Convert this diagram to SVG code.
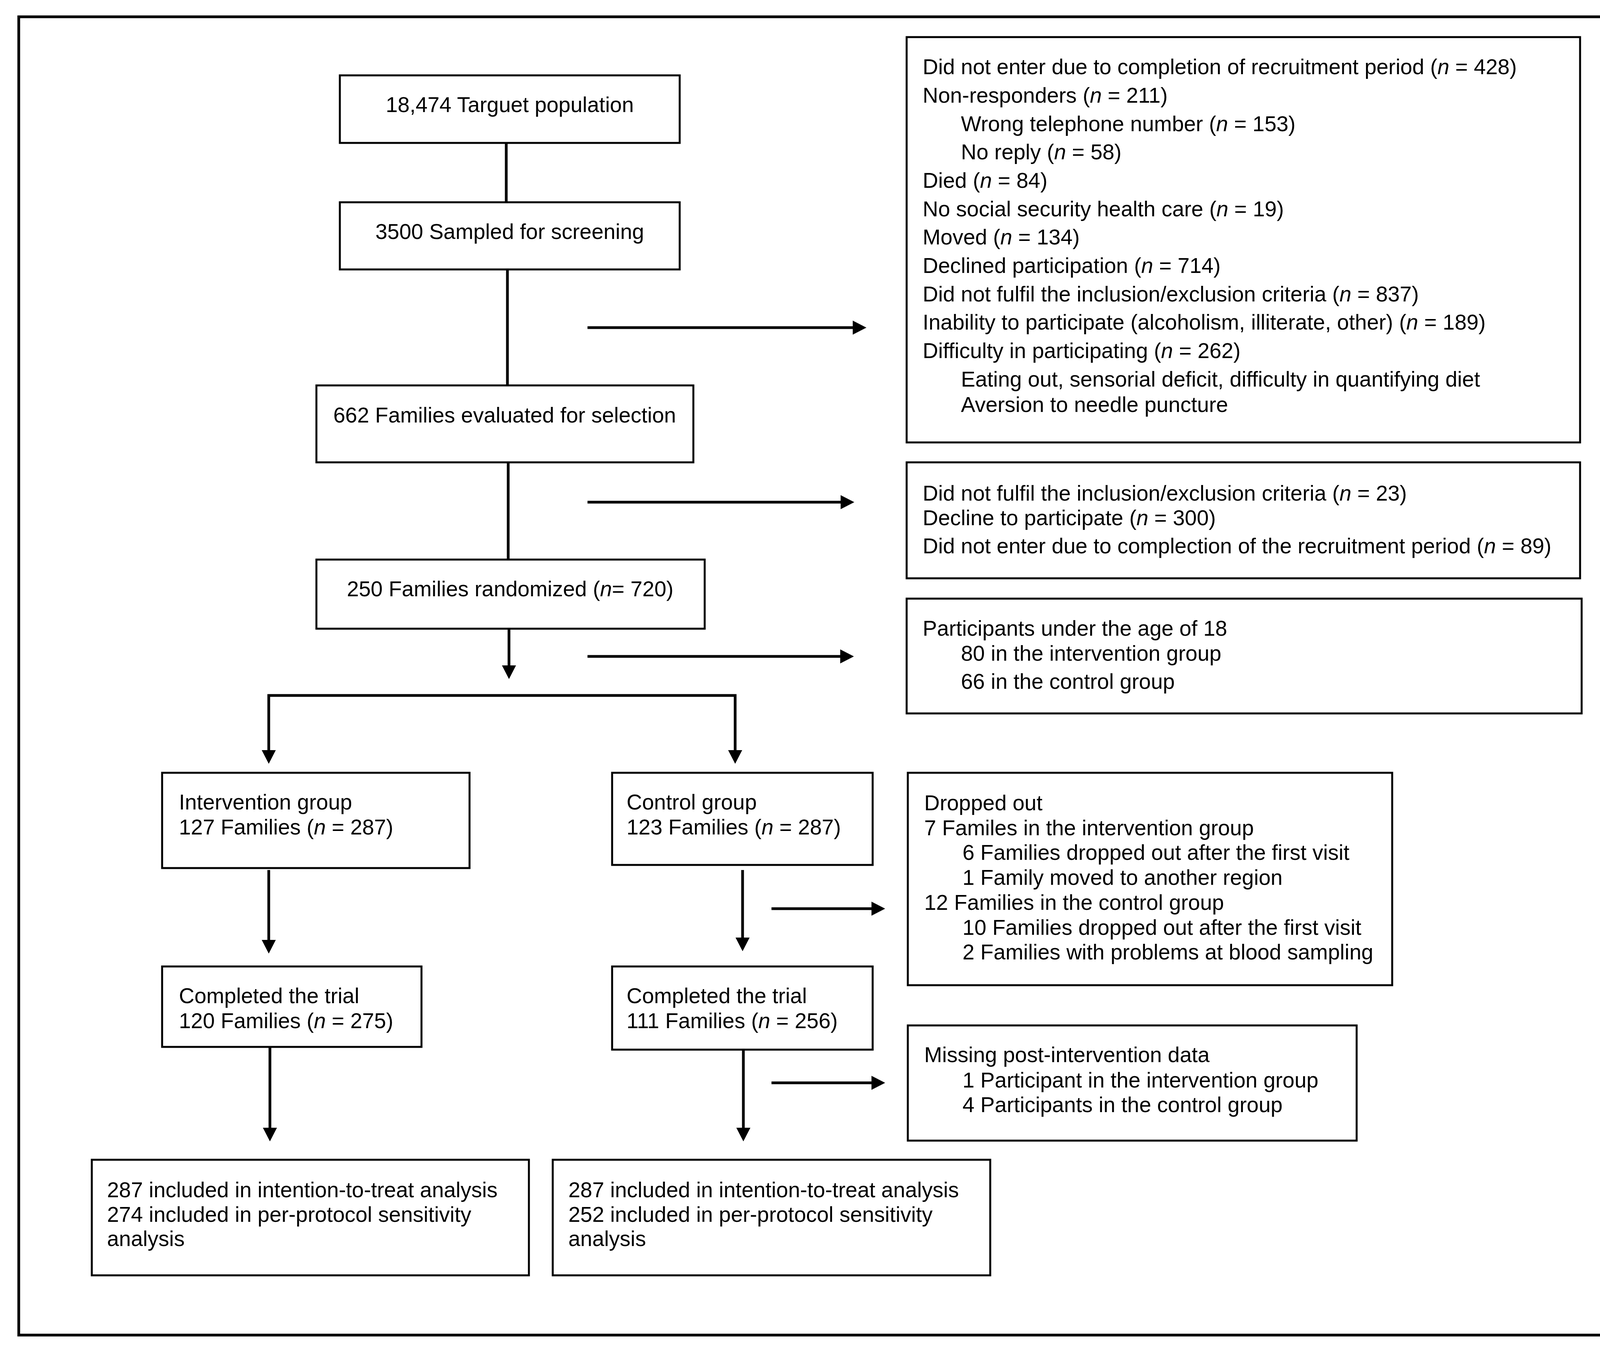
<svg xmlns="http://www.w3.org/2000/svg" width="4460" height="3470" viewBox="0 0 4460 3470">
<style>
.b{fill:#fff;stroke:#000;stroke-width:5}
.c{fill:none;stroke:#000;stroke-width:7}
text{font-family:"Liberation Sans",Arial,Helvetica,sans-serif;font-size:55px;fill:#000}
.m{text-anchor:middle}
.i{font-style:italic}
</style>
<defs>
<marker id="ah" markerUnits="userSpaceOnUse" markerWidth="40" markerHeight="40" viewBox="0 -20 40 40" refX="0" refY="0" orient="auto">
<path d="M0,-18 L35,0 L0,18 Z" fill="#000"/>
</marker>
</defs>
<rect x="0" y="0" width="4460" height="3470" fill="#fff"/>
<rect id="frame" x="48" y="43" width="4368" height="3376" fill="none" stroke="#000" stroke-width="7"/>

<g id="connectors">
<path class="c" d="M1296,366 V518"/>
<path class="c" d="M1299,690 V987"/>
<path class="c" d="M1301,1184 V1433"/>
<path class="c" d="M1303,1610 V1704" marker-end="url(#ah)"/>
<path class="c" d="M1290,1781 H688 V1921" marker-end="url(#ah)"/>
<path class="c" d="M1290,1781 H1882 V1921" marker-end="url(#ah)"/>
<path class="c" d="M688,2228 V2407" marker-end="url(#ah)"/>
<path class="c" d="M1901,2228 V2401" marker-end="url(#ah)"/>
<path class="c" d="M691,2683 V2888" marker-end="url(#ah)"/>
<path class="c" d="M1903,2690 V2888" marker-end="url(#ah)"/>
<path class="c" d="M1504,839 H2183" marker-end="url(#ah)"/>
<path class="c" d="M1504,1286 H2152" marker-end="url(#ah)"/>
<path class="c" d="M1504,1681 H2151" marker-end="url(#ah)"/>
<path class="c" d="M1975,2327 H2231" marker-end="url(#ah)"/>
<path class="c" d="M1975,2773 H2231" marker-end="url(#ah)"/>
</g>

<g id="target">
<rect class="b" x="870" y="193" width="870" height="173"/>
<text class="m" x="1305" y="287">18,474 Targuet population</text>
</g>
<g id="sampled">
<rect class="b" x="870" y="518" width="870" height="172"/>
<text class="m" x="1305" y="612">3500 Sampled for screening</text>
</g>
<g id="evaluated">
<rect class="b" x="810" y="987" width="965" height="197"/>
<text class="m" x="1292" y="1082">662 Families evaluated for selection</text>
</g>
<g id="randomized">
<rect class="b" x="810" y="1433" width="994" height="177"/>
<text class="m" x="1306" y="1527">250 Families randomized (<tspan class="i">n</tspan>= 720)</text>
</g>

<g id="excluded1">
<rect class="b" x="2321" y="95" width="1724" height="1038"/>
<text x="2362" y="190">Did not enter due to completion of recruitment period (<tspan class="i">n</tspan> = 428)</text>
<text x="2362" y="263">Non-responders (<tspan class="i">n</tspan> = 211)</text>
<text x="2460" y="336">Wrong telephone number (<tspan class="i">n</tspan> = 153)</text>
<text x="2460" y="408">No reply (<tspan class="i">n</tspan> = 58)</text>
<text x="2362" y="481">Died (<tspan class="i">n</tspan> = 84)</text>
<text x="2362" y="554">No social security health care (<tspan class="i">n</tspan> = 19)</text>
<text x="2362" y="626">Moved (<tspan class="i">n</tspan> = 134)</text>
<text x="2362" y="699">Declined participation (<tspan class="i">n</tspan> = 714)</text>
<text x="2362" y="772">Did not fulfil the inclusion/exclusion criteria (<tspan class="i">n</tspan> = 837)</text>
<text x="2362" y="844">Inability to participate (alcoholism, illiterate, other) (<tspan class="i">n</tspan> = 189)</text>
<text x="2362" y="917">Difficulty in participating (<tspan class="i">n</tspan> = 262)</text>
<text x="2460" y="990">Eating out, sensorial deficit, difficulty in quantifying diet</text>
<text x="2460" y="1055">Aversion to needle puncture</text>
</g>

<g id="excluded2">
<rect class="b" x="2321" y="1184" width="1724" height="297"/>
<text x="2362" y="1282">Did not fulfil the inclusion/exclusion criteria (<tspan class="i">n</tspan> = 23)</text>
<text x="2362" y="1345">Decline to participate (<tspan class="i">n</tspan> = 300)</text>
<text x="2362" y="1417">Did not enter due to complection of the recruitment period (<tspan class="i">n</tspan> = 89)</text>
</g>

<g id="excluded3">
<rect class="b" x="2321" y="1533" width="1728" height="294"/>
<text x="2362" y="1628">Participants under the age of 18</text>
<text x="2460" y="1692">80 in the intervention group</text>
<text x="2460" y="1764">66 in the control group</text>
</g>

<g id="intervention">
<rect class="b" x="415" y="1979" width="787" height="244"/>
<text x="458" y="2073">Intervention group</text>
<text x="458" y="2137">127 Families (<tspan class="i">n</tspan> = 287)</text>
</g>
<g id="control">
<rect class="b" x="1567" y="1979" width="667" height="236"/>
<text x="1604" y="2073">Control group</text>
<text x="1604" y="2137">123 Families (<tspan class="i">n</tspan> = 287)</text>
</g>

<g id="dropped">
<rect class="b" x="2324" y="1979" width="1240" height="544"/>
<text x="2366" y="2075">Dropped out</text>
<text x="2366" y="2139">7 Familes in the intervention group</text>
<text x="2464" y="2202">6 Families dropped out after the first visit</text>
<text x="2464" y="2266">1 Family moved to another region</text>
<text x="2366" y="2330">12 Families in the control group</text>
<text x="2464" y="2394">10 Families dropped out after the first visit</text>
<text x="2464" y="2457">2 Families with problems at blood sampling</text>
</g>

<g id="completed-int">
<rect class="b" x="415" y="2475" width="664" height="206"/>
<text x="458" y="2569">Completed the trial</text>
<text x="458" y="2633">120 Families (<tspan class="i">n</tspan> = 275)</text>
</g>
<g id="completed-ctl">
<rect class="b" x="1567" y="2475" width="667" height="213"/>
<text x="1604" y="2569">Completed the trial</text>
<text x="1604" y="2633">111 Families (<tspan class="i">n</tspan> = 256)</text>
</g>

<g id="missing">
<rect class="b" x="2324" y="2626" width="1149" height="295"/>
<text x="2366" y="2720">Missing post-intervention data</text>
<text x="2464" y="2785">1 Participant in the intervention group</text>
<text x="2464" y="2848">4 Participants in the control group</text>
</g>

<g id="analysis-int">
<rect class="b" x="235" y="2970" width="1119" height="296"/>
<text x="274" y="3066">287 included in intention-to-treat analysis</text>
<text x="274" y="3129">274 included in per-protocol sensitivity</text>
<text x="274" y="3191">analysis</text>
</g>
<g id="analysis-ctl">
<rect class="b" x="1415" y="2970" width="1120" height="296"/>
<text x="1455" y="3066">287 included in intention-to-treat analysis</text>
<text x="1455" y="3129">252 included in per-protocol sensitivity</text>
<text x="1455" y="3191">analysis</text>
</g>
</svg>
